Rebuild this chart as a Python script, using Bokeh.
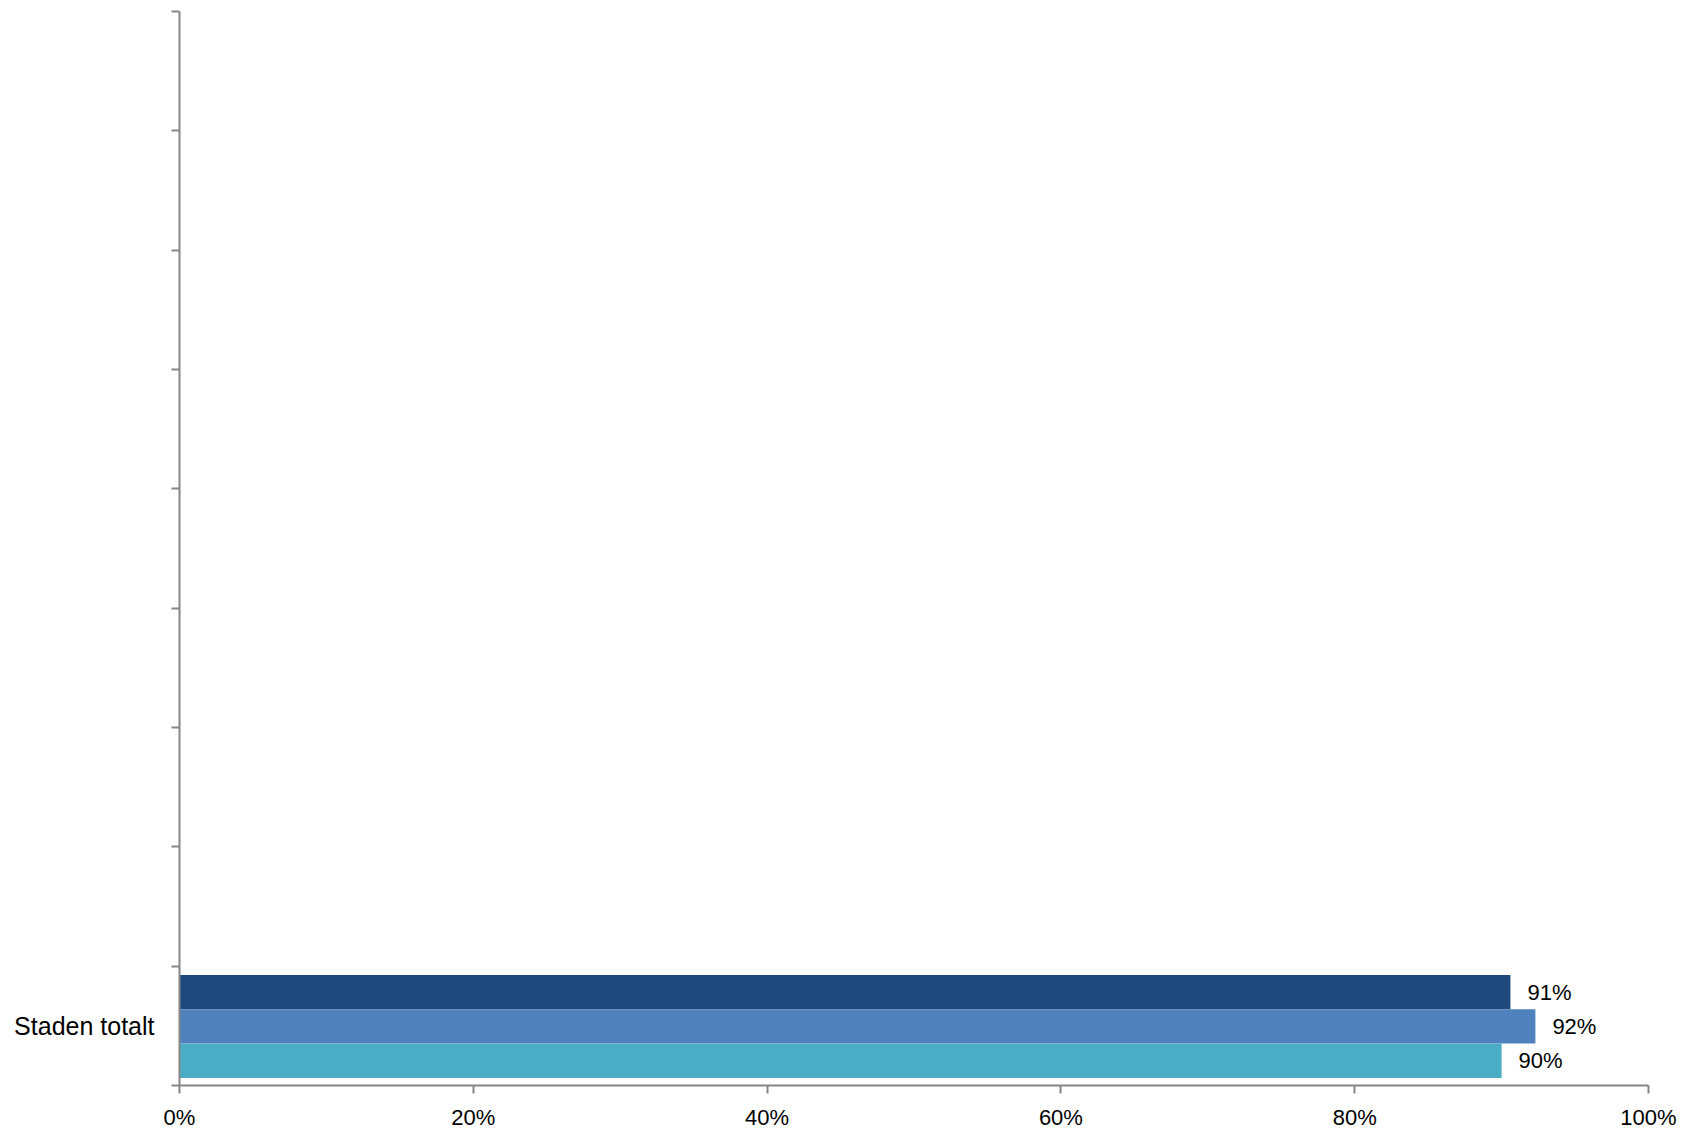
from bokeh.plotting import figure
from bokeh.models import ColumnDataSource, FixedTicker, LabelSet, NumeralTickFormatter
from bokeh.core.properties import value
from bokeh.embed import file_html
from bokeh.resources import INLINE

# ---- data ----
categories = ["", "", "", "", "", "", "", "", "Staden totalt"]  # top to bottom
series_names = ["Serie 1", "Serie 2", "Serie 3"]
series_colors = ["#1F497D", "#4F81BD", "#4BACC6"]
values_s1 = [None, None, None, None, None, None, None, None, 0.906]
values_s2 = [None, None, None, None, None, None, None, None, 0.923]
values_s3 = [None, None, None, None, None, None, None, None, 0.900]
x_ticks = [0, 0.2, 0.4, 0.6, 0.8, 1.0]

FONT = "Liberation Sans"
n = len(categories)

p = figure(width=1683, height=1134, output_backend="svg", toolbar_location=None,
           x_range=(0, 1), y_range=(0, n),
           min_border_left=179, min_border_right=35, min_border_top=11, min_border_bottom=49)
p.outline_line_color = None
p.grid.grid_line_color = None
p.background_fill_color = "white"

# positions: bottom category at index 0
centers = [n - 1 - i + 0.5 for i in range(n)]
offsets = [0.288, 0.0, -0.288]
bar_h = 0.288

all_vals = [values_s1, values_s2, values_s3]
for vals, name, col, off in zip(all_vals, series_names, series_colors, offsets):
    xs, ys, labs = [], [], []
    for c, v in zip(centers, vals):
        if v is not None:
            xs.append(v)
            ys.append(c - 0.005 + off)
            labs.append(f"{round(v * 100):.0f}%")
    src = ColumnDataSource(dict(x=xs, y=ys, lab=labs))
    p.hbar(y="y", right="x", left=0, height=bar_h, source=src,
           fill_color=col, line_color=None)
    ls = LabelSet(x="x", y="y", text="lab", source=src, x_offset=17,
                  text_baseline="middle", text_align="left",
                  text_font=value(FONT), text_font_size=value("22px"), text_color="#000000")
    p.add_layout(ls)

# x axis
xa = p.xaxis[0]
xa.ticker = FixedTicker(ticks=x_ticks, minor_ticks=[])
xa.formatter = NumeralTickFormatter(format="0%")
xa.axis_line_color = "#868686"
xa.axis_line_width = 2
xa.major_tick_line_color = "#868686"
xa.major_tick_line_width = 2
xa.major_tick_in = 0
xa.major_tick_out = 8
xa.minor_tick_line_color = None
xa.major_label_standoff = 11
xa.major_label_text_font = FONT
xa.major_label_text_font_size = "22px"
xa.major_label_text_color = "#000000"

# y axis: boundary ticks as minor ticks, labels at centers
ya = p.yaxis[0]
ya.ticker = FixedTicker(ticks=centers, minor_ticks=list(range(n + 1)))
ya.major_label_overrides = {c: lab for c, lab in zip(centers, categories)}
ya.axis_line_color = "#868686"
ya.axis_line_width = 2
ya.major_tick_line_color = None
ya.major_tick_in = 0
ya.major_tick_out = 0
ya.minor_tick_line_color = "#868686"
ya.minor_tick_line_width = 2
ya.minor_tick_in = 0
ya.minor_tick_out = 8
ya.major_label_standoff = 17
ya.major_label_text_font = FONT
ya.major_label_text_font_size = "25px"
ya.major_label_text_color = "#000000"

open("out.html", "w").write(file_html(p, INLINE))
